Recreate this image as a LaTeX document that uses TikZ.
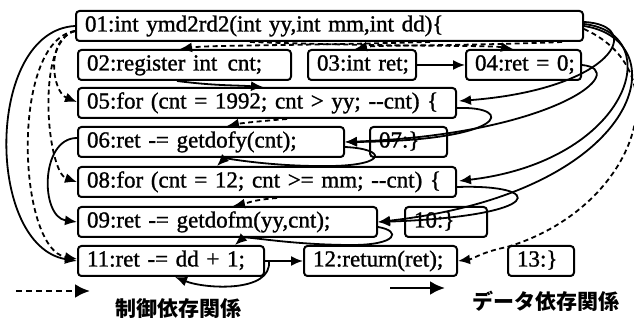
\documentclass[tikz,border=0pt]{standalone}
\usepackage{fontspec}
\setmainfont{Liberation Serif}[RawFeature={embolden=1.2}]
\newfontfamily\jpfont{Noto Sans CJK JP}
\usetikzlibrary{arrows.meta,calc}

\begin{document}
\begin{tikzpicture}[x=1pt,y=-1pt,
  stmt/.style={draw, line width=2pt, rounded corners=3.5pt, fill=white,
    inner xsep=9pt, inner ysep=0pt, minimum height=30pt, anchor=north west,
    align=left, text height=16pt, text depth=5pt,
    font=\fontsize{23}{24}\selectfont},
  dep/.style={line width=1.8pt, -{Latex[length=12pt,width=10pt]}},
  ctl/.style={dep, dash pattern=on 5pt off 3.5pt},
  legtext/.style={font=\jpfont\bfseries\fontsize{21}{21}\selectfont, inner sep=0pt},
  legarrow/.style={line width=2.6pt, -{Latex[length=15pt,width=14pt]}},
]
\useasboundingbox (0,0) rectangle (634,328);

% statements
\node[stmt, text width=489pt] (n01) at (75,10)  {\mbox{01:int ymd2rd2(int yy,int mm,int dd)\{}};
\node[stmt, text width=195pt] (n02) at (77,49)  {\mbox{02:register int\hspace{.45em}cnt;}};
\node[stmt, text width=90pt]  (n03) at (307,49) {\mbox{03:int ret;}};
\node[stmt, text width=97pt]  (n04) at (465,49) {\mbox{04:ret = 0;}};
\node[stmt, text width=360pt] (n05) at (77,87)  {\mbox{05:for (cnt = 1992; cnt > yy; {-}{-}cnt) \{}};
\node[stmt, text width=248pt] (n06) at (77,126) {\mbox{06:ret -= getdofy(cnt);}};
\node[stmt, text width=59pt]  (n07) at (369,126){\mbox{07:\}}};
\node[stmt, text width=360pt] (n08) at (77,166) {\mbox{08:for (cnt = 12; cnt >= mm; {-}{-}cnt) \{}};
\node[stmt, text width=281pt] (n09) at (77,206) {\mbox{09:ret -= getdofm(yy,cnt);}};
\node[stmt, text width=64pt]  (n10) at (404,206){\mbox{10:\}}};
\node[stmt, text width=168pt] (n11) at (77,245) {\mbox{11:ret -= dd + 1;}};
\node[stmt, text width=135pt] (n12) at (303,245){\mbox{12:return(ret);}};
\node[stmt, text width=48pt]  (n13) at (507,245){\mbox{13:\}}};

% control dependences between neighbouring rows
\draw[ctl] ($(n01.south west)+(355,0)$) .. controls +(-150,4) and +(30,-4) .. ($(n02.north west)+(103,0)$);
\draw[ctl] ($(n01.south east)+(-22,0)$) .. controls +(-100,4) and +(20,-4) .. ($(n03.north west)+(48,0)$);
\draw[ctl] ($(n01.south west)+(175,0)$) .. controls +(150,5) and +(-25,-4) .. ($(n04.north west)+(48,0)$);
\draw[ctl] ($(n05.south west)+(210,0)$) .. controls +(-25,2) and +(15,-3) .. ($(n06.north west)+(150,0)$);
\draw[ctl] ($(n08.south west)+(200,0)$) .. controls +(-25,2) and +(15,-3) .. ($(n09.north west)+(156,0)$);

% control dependences on the left
\draw[ctl] ($(n01.west)+(0,5)$) .. controls +(-30,8) and +(-25,-10) .. ($(n05.west)+(0,-1)$);
\draw[ctl] ($(n01.west)+(0,5)$) .. controls +(-40,10) and +(-30,-10) .. (n08.west);
\draw[ctl] ($(n01.west)+(0,5)$) .. controls +(-65,10) and +(-60,-10) .. ($(n11.west)+(0,-2)$);

% data dependences on the left
\draw[dep] (n01.west) .. controls +(-90,5) and +(-92,-15) .. (n11.west);
\draw[dep] ($(n06.west)+(0,-4)$) .. controls +(-37,0) and +(-37,-5) .. (n09.west);

% data dependences between neighbours
\draw[dep] (n03.east) -- (n04.west);
\draw[dep] ($(n02.south west)+(100,0)$) .. controls +(40,5) and +(-30,-2) .. ($(n05.north west)+(186,0)$);

% data dependences on the right
\draw[dep] ($(n01.east)+(0,-4)$) .. controls +(62,3) and +(155,-12) .. ($(n05.east)+(2,-2)$);
\draw[dep] (n04.east) .. controls +(50,5) and +(210,-8) .. (n06.east);
\draw[dep] ($(n01.east)+(0,-2)$) .. controls +(85,10) and +(170,-20) .. ($(n08.east)+(2,-1)$);
\draw[dep] (n01.east) .. controls +(95,15) and +(265,-30) .. (n09.east);
\draw[ctl] ($(n01.east)+(0,3)$) .. controls +(100,45) and +(125,-37) .. ($(n13.north west)+(0,2)$)
  .. controls +(-25,5) and +(15,-2) .. (n12.east);

% loops
\draw[dep] ($(n05.east)+(0,5)$) .. controls +(60,-2) and +(162,-1) .. (n06.east);
\draw[dep] ($(n06.east)+(0,5)$) .. controls +(42,2) and +(55,-1) .. ($(n06.south east)+(-13,8)$)
  .. controls +(-60,1) and +(8,-8) .. ($(n08.north west)+(140,0)$);
\draw[dep] ($(n08.east)+(0,5)$) .. controls +(90,-3) and +(169,-6) .. (n09.east);
\draw[dep] ($(n09.east)+(0,5)$) .. controls +(24,4) and +(45,0) .. ($(n09.south east)+(-26,7)$)
  .. controls +(-60,0) and +(10,-9) .. ($(n11.north west)+(158,0)$);
\draw[dep] (n11.east) -- ++(4,0) .. controls +(3,32) and +(30,12) .. ($(n11.south west)+(98,0)$);
\draw[dep] (n11.east) -- (n12.west);

% legend
\coordinate (lda) at (16,291);
\coordinate (ldb) at (90,291);
\draw[legarrow, dash pattern=on 6pt off 4pt] (lda) -- (ldb);
\node[legtext] (lcd) at (178,309) {制御依存関係};
\coordinate (lsa) at (390,288);
\coordinate (lsb) at (445,288);
\draw[legarrow] (lsa) -- (lsb);
\node[legtext] (ldd) at (546,301) {データ依存関係};
\end{tikzpicture}
\end{document}
